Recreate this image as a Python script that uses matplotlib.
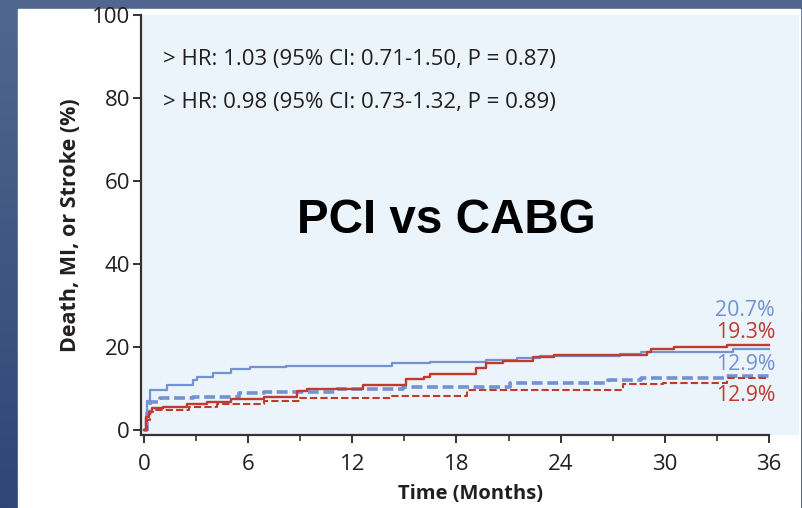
import numpy as np
import matplotlib
matplotlib.use("Agg")
import matplotlib.pyplot as plt
from matplotlib.patches import Rectangle
from matplotlib.ticker import MultipleLocator
from matplotlib.colors import LinearSegmentedColormap

# step curves (months, %)
blue_solid_t = [0, 0.1, 0.2, 0.35, 1.3, 2.8, 3.05, 4.0, 5.0, 6.1, 8.2, 14.3, 16.5, 19.7, 21.5, 22.8, 27.4, 28.6, 33.9, 36]
blue_solid_v = [0, 3.0, 7.0, 9.6, 10.8, 12.0, 12.8, 13.7, 14.7, 15.2, 15.4, 16.1, 16.4, 16.9, 17.3, 17.8, 18.3, 18.8, 19.4, 19.4]

red_solid_t = [0, 0.1, 0.3, 0.45, 1.1, 2.5, 3.6, 5.0, 6.9, 8.8, 9.4, 12.6, 15.1, 16.1, 16.5, 19.1, 19.7, 20.7, 22.4, 23.6, 29.0, 29.2, 30.5, 33.6, 36]
red_solid_v = [0, 3.1, 4.3, 5.3, 5.6, 6.2, 6.8, 7.5, 8.0, 9.4, 9.8, 10.8, 12.2, 12.8, 13.5, 14.9, 16.1, 16.6, 17.5, 18.1, 18.8, 19.4, 20.0, 20.6, 20.6]

blue_dash_t = [0, 0.15, 0.35, 0.9, 2.8, 5.5, 6.9, 11.1, 14.9, 21.1, 26.7, 28.6, 33.4, 36]
blue_dash_v = [0, 4.0, 6.7, 7.7, 8.0, 8.9, 9.2, 9.8, 10.4, 11.3, 12.0, 12.5, 13.0, 13.0]

red_dash_t = [0, 0.15, 0.35, 0.5, 2.6, 4.2, 6.9, 9.0, 14.3, 18.6, 27.6, 29.9, 33.6, 36]
red_dash_v = [0, 2.5, 4.3, 4.8, 5.5, 6.3, 7.0, 7.7, 8.3, 9.6, 11.0, 11.4, 12.5, 12.5]

end_labels = ["20.7%", "19.3%", "12.9%", "12.9%"]
end_label_y = [28.9, 23.6, 15.7, 8.4]

hr_lines = ["> HR: 1.03 (95% CI: 0.71-1.50, P = 0.87)",
            "> HR: 0.98 (95% CI: 0.73-1.32, P = 0.89)"]
hr_y = [89.2, 78.8]

blue = "#7392d2"
red = "#c03b2e"
dark = "#231f20"

plt.rcParams['font.family'] = ['Open Sans', 'DejaVu Sans']

W, H = 803, 508
fig = plt.figure(figsize=(W / 100, H / 100), dpi=100)
fig.patch.set_facecolor("#4b6090")

# slide background gradient + white panel
bg = fig.add_axes([0, 0, 1, 1], zorder=-10)
grad = np.linspace(0, 1, 256).reshape(-1, 1)
cmap = LinearSegmentedColormap.from_list("bg", ["#52678f", "#2f4676"])
bg.imshow(grad, aspect="auto", cmap=cmap, extent=[0, 1, 0, 1])
bg.set_xlim(0, 1)
bg.set_ylim(0, 1)
bg.axis("off")
bg.add_patch(Rectangle((18 / W, 0), (800 - 18) / W, (H - 9) / H, color="white", zorder=2))

# x: 0 -> px 144, 36 -> px 769 ; y: 0 -> px 430, 100 -> px 15
px_per_t = (769 - 144) / 36
px_per_v = (430 - 15) / 100
x0 = (141 - 144) / px_per_t
x1 = (799 - 144) / px_per_t
y0 = -(435 - 430) / px_per_v
y1 = 100

ax = fig.add_axes([141 / W, (H - 435) / H, (799 - 141) / W, (435 - 15) / H])
ax.set_facecolor("#ebf3fb")
ax.set_xlim(x0, x1)
ax.set_ylim(y0, y1)

ax.step(blue_dash_t, blue_dash_v, where="post", color=blue, lw=2.6, dashes=(3, 1.3))
ax.step(red_dash_t, red_dash_v, where="post", color=red, lw=1.5, dashes=(3.5, 1.5))
ax.step(blue_solid_t, blue_solid_v, where="post", color=blue, lw=1.6)
ax.step(red_solid_t, red_solid_v, where="post", color=red, lw=1.7)

for s in ["top", "right"]:
    ax.spines[s].set_visible(False)
for s in ["left", "bottom"]:
    ax.spines[s].set_color("#333333")
    ax.spines[s].set_linewidth(1.6)
ax.spines["bottom"].set_bounds(x0, 36)

ax.set_xticks(np.arange(0, 37, 6))
ax.xaxis.set_minor_locator(MultipleLocator(3))
ax.set_yticks(np.arange(0, 101, 20))
ax.tick_params(axis="both", which="major", direction="out", length=6, width=1.4,
               color="#333333", labelsize=16, labelcolor=dark, pad=2)
ax.tick_params(axis="x", which="minor", direction="out", length=4, width=1.2, color="#333333")
ax.tick_params(axis="x", which="major", pad=8)

ax.set_xlabel("Time (Months)", fontsize=14.5, fontweight="bold", color=dark, labelpad=6)
ax.set_ylabel("Death, MI, or Stroke (%)", fontsize=15.5, fontweight="bold", color=dark, labelpad=8)

for txt, yv in zip(hr_lines, hr_y):
    ax.text(1.1, yv, txt, fontsize=16, color=dark, va="center", ha="left")

label_colors = [blue, red, blue, red]
for txt, yv, c in zip(end_labels, end_label_y, label_colors):
    ax.text(36.35, yv, txt, fontsize=15.3, color=c, ha="right", va="center")

ax.text(17.4, 50.5, "PCI vs CABG", fontsize=34.3, fontweight="bold", color="black",
        ha="center", va="center", family="Liberation Sans")

fig.savefig("out.png", dpi=100, facecolor=fig.get_facecolor())
